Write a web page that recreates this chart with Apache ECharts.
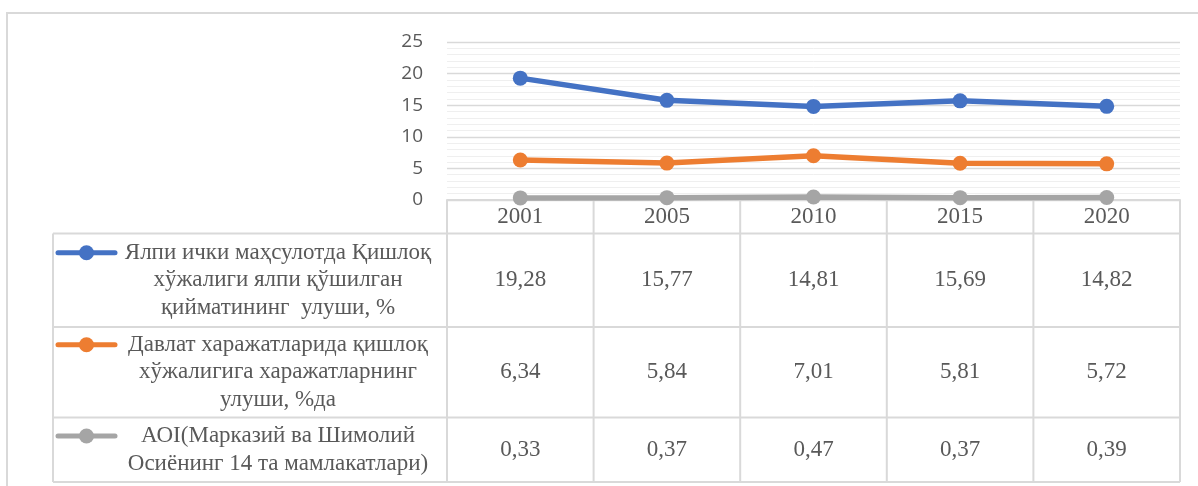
<!DOCTYPE html>
<html>
<head>
<meta charset="utf-8">
<script src="https://cdn.jsdelivr.net/npm/echarts@6/dist/echarts.min.js"></script>
<style>
html,body{margin:0;padding:0;background:#fff;}
#c{width:1198px;height:486px;}
</style>
</head>
<body>
<div id="c"></div>
<script>
// ---- data ----
const years = ['2001', '2005', '2010', '2015', '2020'];
const seriesNames = [
  'Ялпи ички маҳсулотда Қишлоқ\nхўжалиги ялпи қўшилган\nқийматининг  улуши, %',
  'Давлат харажатларида қишлоқ\nхўжалигига харажатларнинг\nулуши, %да',
  'АОI(Марказий ва Шимолий\nОсиёнинг 14 та мамлакатлари)'
];
const gdpShare = [19.28, 15.77, 14.81, 15.69, 14.82];
const budgetShare = [6.34, 5.84, 7.01, 5.81, 5.72];
const aoi = [0.33, 0.37, 0.47, 0.37, 0.39];
const yTicks = [0, 5, 10, 15, 20, 25];

const seriesData = [gdpShare, budgetShare, aoi];
const colors = ['#4472C4', '#ED7D31', '#A5A5A5'];

const chart = echarts.init(document.getElementById('c'));
const GRID = {left: 447, right: 18, top: 42, bottom: 286};
const serif = '"Liberation Serif", "Times New Roman", serif';
const textColor = '#595959';
const borderColor = '#D9D9D9';

chart.setOption({
  animation: false,
  backgroundColor: '#fff',
  grid: {left: GRID.left, right: GRID.right, top: GRID.top, bottom: GRID.bottom, containLabel: false},
  xAxis: {
    type: 'category',
    data: years,
    boundaryGap: true,
    axisLine: {show: true, lineStyle: {color: borderColor, width: 2}},
    axisTick: {show: false},
    axisLabel: {
      color: textColor, fontFamily: serif, fontSize: 23,
      margin: 17, verticalAlign: 'middle'
    },
    splitLine: {show: false}
  },
  yAxis: {
    type: 'value',
    min: yTicks[0], max: yTicks[yTicks.length - 1], interval: 5,
    axisLine: {show: false},
    axisTick: {show: false},
    axisLabel: {color: textColor, fontFamily: '"Open Sans", "Liberation Sans", Arial, sans-serif', fontSize: 19, margin: 24},
    splitLine: {show: true, lineStyle: {color: borderColor, width: 1.3}},
    minorTick: {show: false, splitNumber: 5},
    minorSplitLine: {show: true, lineStyle: {color: '#EFEFEF', width: 1}}
  },
  series: seriesData.map((d, i) => ({
    name: seriesNames[i],
    type: 'line',
    data: d,
    symbol: 'circle',
    symbolSize: 15,
    lineStyle: {color: colors[i], width: 5.5},
    itemStyle: {color: colors[i]},
    z: 10 - i
  }))
});

// ---- data table drawn below the plot, aligned with the category axis ----
function fmt(v) { return v.toFixed(2).replace('.', ','); }

const x0 = GRID.left;
const x1 = 1198 - GRID.right;
const yHeadTop = 486 - GRID.bottom;
const rowLines = [233.5, 327, 417.5, 482];
const tableLeft = 53;
const g = [];
const line = (xa, ya, xb, yb) => g.push({
  type: 'line', shape: {x1: xa, y1: ya, x2: xb, y2: yb},
  style: {stroke: borderColor, lineWidth: 2}, silent: true, z: 1
});

// outer chart border
g.push({type: 'rect', shape: {x: 7, y: 13, width: 1300, height: 600},
  style: {fill: null, stroke: borderColor, lineWidth: 2}, silent: true, z: 0});

const centers = years.map((y, i) => chart.convertToPixel({xAxisIndex: 0}, i));
const band = (x1 - x0) / years.length;
for (let i = 0; i <= years.length; i++) {
  const x = x0 + i * band;
  line(x, yHeadTop, x, rowLines[rowLines.length - 1]);
}
line(tableLeft, rowLines[0], tableLeft, rowLines[rowLines.length - 1]);
rowLines.forEach(y => line(tableLeft, y, x1, y));

for (let r = 0; r < seriesData.length; r++) {
  const top = rowLines[r], bottom = rowLines[r + 1];
  const mid = (top + bottom) / 2;
  const nLines = seriesNames[r].split('\n').length;
  const lh = 27.5;
  const firstLineY = mid - (nLines - 1) * lh / 2;
  g.push({type: 'line', shape: {x1: 58, y1: firstLineY, x2: 115, y2: firstLineY},
    style: {stroke: colors[r], lineWidth: 5, lineCap: 'round'}, silent: true, z: 5});
  g.push({type: 'circle', shape: {cx: 86.5, cy: firstLineY, r: 7.5},
    style: {fill: colors[r]}, silent: true, z: 6});
  g.push({type: 'text', x: 278, y: mid,
    style: {text: seriesNames[r], fill: textColor, font: '23px ' + serif,
      align: 'center', verticalAlign: 'middle', lineHeight: lh},
    silent: true, z: 5});
  seriesData[r].forEach((v, i) => {
    g.push({type: 'text', x: centers[i], y: mid,
      style: {text: fmt(v), fill: textColor, font: '23px ' + serif,
        align: 'center', verticalAlign: 'middle'},
      silent: true, z: 5});
  });
}

chart.setOption({graphic: {elements: g}});
</script>
</body>
</html>
